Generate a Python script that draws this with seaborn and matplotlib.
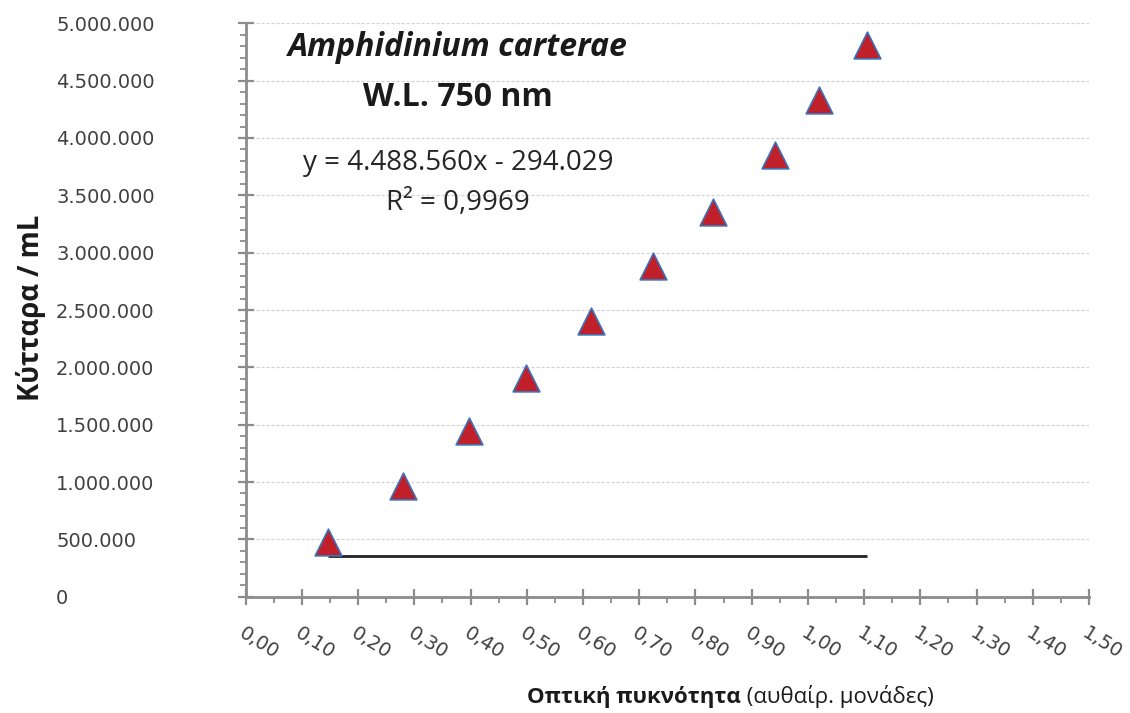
import numpy as np
import pandas as pd
import matplotlib
matplotlib.use("Agg")
import matplotlib.pyplot as plt
from matplotlib import font_manager as fm
from matplotlib.ticker import MultipleLocator, FuncFormatter
import seaborn as sns

# ---- data ----
optical_density = [0.147, 0.280, 0.397, 0.499, 0.614, 0.725, 0.832, 0.942, 1.019, 1.106]
cells_per_ml = [475000, 962000, 1443000, 1905000, 2401000, 2885000, 3352000, 3851000, 4333000, 4814000]
line_level = 357000
title_species = "Amphidinium carterae"
title_wl = "W.L. 750 nm"
equation_text = "y = 4.488.560x - 294.029"
r2_text = "R² = 0,9969"
ylabel_text = "Κύτταρα / mL"
xlabel_bold = "Οπτική πυκνότητα"
xlabel_normal = " (αυθαίρ. μονάδες)"

df = pd.DataFrame({"od": optical_density, "cells": cells_per_ml})

sns.set_theme(style="white")
plt.rcParams["font.family"] = ["DejaVu Sans"]


def _wnum(w):
    if isinstance(w, (int, float)):
        return int(w)
    return fm.weight_dict.get(str(w).lower(), 400)


def pick_font(families, weight, style, size):
    for fam in families:
        cands = [f for f in fm.fontManager.ttflist
                 if f.name == fam and "ondensed" not in f.fname]
        if not cands:
            continue
        best = min(cands, key=lambda f: (f.style != style,
                                         abs(_wnum(f.weight) - weight),
                                         f.stretch != "normal"))
        if best.style == style and abs(_wnum(best.weight) - weight) <= 100:
            fp = fm.FontProperties(fname=best.fname)
            fp.set_size(size)
            return fp
    return fm.FontProperties(family="DejaVu Sans",
                             weight="bold" if weight >= 600 else "normal",
                             style=style, size=size)


FAMS = ["Open Sans", "Noto Sans", "Roboto", "Lato"]

W, H = 1130, 713
fig = plt.figure(figsize=(W / 100, H / 100), dpi=100)
ax = fig.add_axes([245.7 / W, 1 - 596.7 / H, (1089 - 245.7) / W, (596.7 - 23.3) / H])

spine_col = "#8c8c8c"
text_col = "#404040"

# gridlines
ax.set_axisbelow(True)
ax.yaxis.grid(True, which="major", color="#d2d2d2", linestyle=(0, (2.5, 1.5)), linewidth=0.9)
ax.xaxis.grid(False)

sns.scatterplot(data=df, x="od", y="cells", marker="^", s=370,
                color="#C0202A", edgecolor="#3D72B8", linewidth=1.2, ax=ax,
                zorder=3, legend=False)

ax.hlines(y=line_level, xmin=min(optical_density), xmax=max(optical_density),
          color="#222222", linewidth=2.0, zorder=2)

ax.set_xlim(0, 1.5)
ax.set_ylim(0, 5000000)

ax.xaxis.set_major_locator(MultipleLocator(0.1))
ax.xaxis.set_minor_locator(MultipleLocator(0.05))
ax.yaxis.set_major_locator(MultipleLocator(500000))
ax.yaxis.set_minor_locator(MultipleLocator(100000))

ax.yaxis.set_major_formatter(FuncFormatter(lambda v, p: f"{int(round(v)):,}".replace(",", ".")))
ax.xaxis.set_major_formatter(FuncFormatter(lambda v, p: f"{v:.2f}".replace(".", ",")))

for s in ["top", "right"]:
    ax.spines[s].set_visible(False)
for s in ["left", "bottom"]:
    ax.spines[s].set_color(spine_col)
    ax.spines[s].set_linewidth(2.0)

ax.tick_params(axis="both", which="major", direction="inout", length=11, width=1.6,
               color=spine_col, labelcolor=text_col, labelsize=14)
ax.tick_params(axis="both", which="minor", direction="out", length=4.5, width=1.3,
               color=spine_col)
ax.tick_params(axis="y", which="major", pad=131, left=True)
ax.tick_params(axis="x", which="major", pad=14, bottom=True)
ax.tick_params(axis="both", which="minor", left=True, bottom=True)

for lab in ax.get_yticklabels():
    lab.set_horizontalalignment("left")
for lab in ax.get_xticklabels():
    lab.set_rotation(-32)
    lab.set_horizontalalignment("left")
    lab.set_verticalalignment("top")
    lab.set_rotation_mode("anchor")

ax.set_xlabel("")
ax.set_ylabel("")

dark = "#1a1a1a"

# y label
fig.text(31 / W, 1 - 308 / H, ylabel_text, rotation=90, ha="center", va="center",
         color=dark, fontproperties=pick_font(FAMS, 700, "normal", 19.8))

# x label (bold + normal parts)
t1 = fig.text(527 / W, 1 - 697 / H, xlabel_bold, ha="left", va="center",
              color=dark, fontproperties=pick_font(FAMS, 700, "normal", 16))
fig.canvas.draw()
ax.annotate(xlabel_normal, xy=(1, 0), xycoords=t1, ha="left", va="bottom",
            color=dark, fontproperties=pick_font(FAMS, 400, "normal", 16),
            annotation_clip=False)

# titles and equation
cx = 458 / W
fig.text(cx, 1 - 48 / H, title_species, ha="center", va="center",
         color=dark, fontproperties=pick_font(FAMS, 700, "italic", 23))
fig.text(cx, 1 - 97 / H, title_wl, ha="center", va="center",
         color=dark, fontproperties=pick_font(FAMS, 700, "normal", 23))
fig.text(cx, 1 - 163 / H, equation_text, ha="center", va="center",
         color="#262626", fontproperties=pick_font(FAMS, 400, "normal", 20))
fig.text(cx, 1 - 203 / H, r2_text, ha="center", va="center",
         color="#262626", fontproperties=pick_font(FAMS, 400, "normal", 20))

fig.savefig("out.png", dpi=100, facecolor="white")
